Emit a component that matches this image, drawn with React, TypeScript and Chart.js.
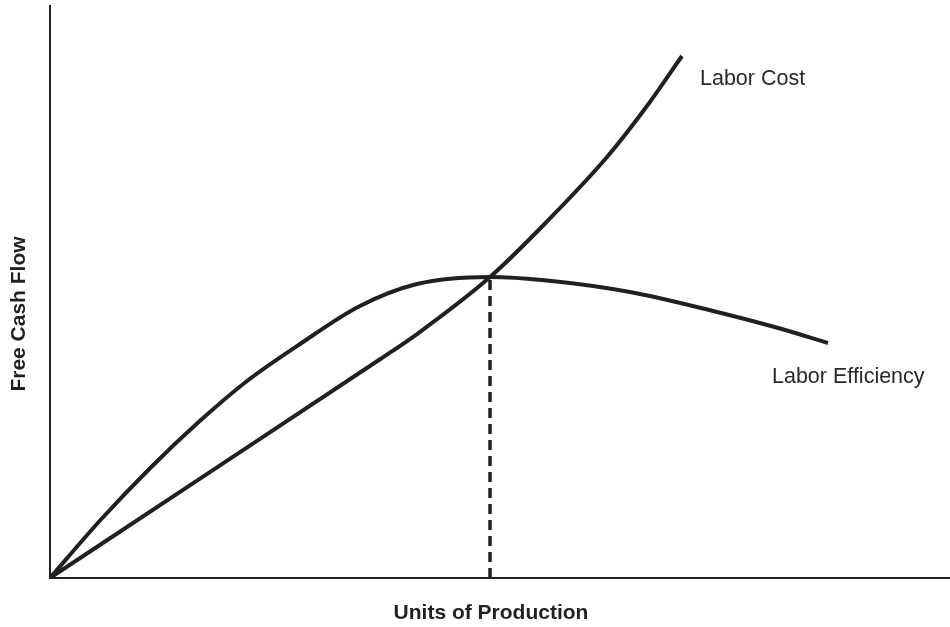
import React, { useEffect, useRef } from "react";
import { Chart, registerables } from "chart.js";

Chart.register(...registerables);

// Labor Efficiency curve (x: units of production, y: free cash flow)
const efficiencyX = [0, 5.56, 11.11, 16.67, 21.89, 27.78, 34.44, 40.78, 48.89, 55.22, 64.44, 73.67, 81.11, 86.44];
const efficiencyY = [0, 10.03, 19.16, 27.43, 34.38, 40.84, 47.47, 51.31, 52.53, 51.92, 49.91, 46.6, 43.54, 41.01];

// Labor Cost curve
const costX = [0, 16.67, 36.67, 40.78, 48.89, 55.22, 61.89, 66.33, 70.22];
const costY = [0, 17.35, 38.18, 42.58, 52.53, 62.22, 73.47, 82.37, 91.1];

// Optimal point (dashed drop line)
const optimumX = [48.89, 48.89];
const optimumY = [0, 52.53];

const xAxisTitle = "Units of Production";
const yAxisTitle = "Free Cash Flow";
const costLabel = "Labor Cost";
const efficiencyLabel = "Labor Efficiency";

const INK = "#231f20";

const toPoints = (xs: number[], ys: number[]) => xs.map((x, i) => ({ x, y: ys[i] }));

const decorPlugin = {
  id: "decor",
  afterDraw(chart: any) {
    const { ctx, chartArea } = chart;
    const { left, right, top, bottom } = chartArea;
    ctx.save();
    // axes
    ctx.strokeStyle = INK;
    ctx.lineWidth = 2;
    ctx.beginPath();
    ctx.moveTo(left, top);
    ctx.lineTo(left, bottom);
    ctx.lineTo(right, bottom);
    ctx.stroke();

    // axis titles
    ctx.fillStyle = INK;
    ctx.font = "bold 21px 'Liberation Sans', Arial, sans-serif";
    ctx.textAlign = "center";
    ctx.textBaseline = "alphabetic";
    ctx.fillText(xAxisTitle, 491, 619);

    ctx.save();
    ctx.translate(25, 314);
    ctx.rotate(-Math.PI / 2);
    ctx.fillText(yAxisTitle, 0, 0);
    ctx.restore();

    // series labels
    ctx.font = "21.5px 'Liberation Sans', Arial, sans-serif";
    ctx.fillStyle = "#2b2829";
    ctx.textAlign = "left";
    ctx.fillText(costLabel, 700, 85);
    ctx.fillText(efficiencyLabel, 772, 383);
    ctx.restore();
  },
};

export default function App() {
  const ref = useRef<HTMLCanvasElement | null>(null);

  useEffect(() => {
    if (!ref.current) return;
    const chart = new Chart(ref.current, {
      type: "line",
      data: {
        datasets: [
          {
            label: efficiencyLabel,
            data: toPoints(efficiencyX, efficiencyY),
            borderColor: INK,
            borderWidth: 4,
            pointRadius: 0,
            cubicInterpolationMode: "monotone",
            fill: false,
          },
          {
            label: costLabel,
            data: toPoints(costX, costY),
            borderColor: INK,
            borderWidth: 4,
            pointRadius: 0,
            cubicInterpolationMode: "monotone",
            fill: false,
          },
          {
            label: "Optimum",
            data: toPoints(optimumX, optimumY),
            borderColor: INK,
            borderWidth: 3.5,
            borderDash: [10, 6],
            pointRadius: 0,
            fill: false,
          },
        ],
      },
      options: {
        responsive: false,
        animation: false,
        devicePixelRatio: 1,
        layout: { padding: { left: 50, top: 5, right: 0, bottom: 49 } },
        plugins: { legend: { display: false }, tooltip: { enabled: false } },
        scales: {
          x: { type: "linear", min: 0, max: 100, display: false },
          y: { type: "linear", min: 0, max: 100, display: false },
        },
      },
      plugins: [decorPlugin],
    } as any);
    return () => chart.destroy();
  }, []);

  return (
    <div style={{ position: "fixed", left: 0, top: 0, width: 950, height: 627, background: "#fff" }}>
      <canvas ref={ref} width={950} height={627} />
    </div>
  );
}
